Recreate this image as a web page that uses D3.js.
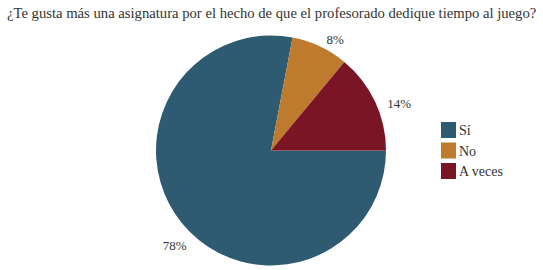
<!DOCTYPE html>
<html>
  <head>
    <meta charset="UTF-8" />
    <script src="https://d3js.org/d3.v7.min.js"></script>
  </head>
  <body style="margin: 0; background: #fff">
    <svg id="chart" width="543" height="270"></svg>
    <script>
      const title =
        "¿Te gusta más una asignatura por el hecho de que el profesorado dedique tiempo al juego?";
      const categories = ["Sí", "No", "A veces"];
      const values = [78, 8, 14];
      const colors = ["#2e5b72", "#be7b2e", "#7a1525"];

      const svg = d3.select("#chart");
      const textColor = "#333";
      const font = "Liberation Serif";

      // title, scaled to the width of the reference
      const titleText = svg
        .append("text")
        .attr("x", 7)
        .attr("y", 18)
        .attr("font-family", font)
        .attr("font-size", 16)
        .attr("fill", textColor)
        .text(title);
      const tw = titleText.node().getComputedTextLength();
      titleText.attr("font-size", (16 * 530) / tw);

      const cx = 271,
        cy = 150.5,
        radius = 115;

      const pie = d3
        .pie()
        .sort(null)
        .startAngle(Math.PI / 2)
        .endAngle(Math.PI / 2 + 2 * Math.PI);

      const arcs = pie(values);
      const arc = d3.arc().innerRadius(0).outerRadius(radius);
      const labelArc = d3.arc().innerRadius(134).outerRadius(134);

      const g = svg.append("g").attr("transform", `translate(${cx},${cy})`);

      g.selectAll("path")
        .data(arcs)
        .join("path")
        .attr("d", arc)
        .attr("fill", (d, i) => colors[i]);

      g.selectAll("text")
        .data(arcs)
        .join("text")
        .attr("transform", (d) => {
          const [x, y] = labelArc.centroid(d);
          return `translate(${x + 7},${y + 10})`;
        })
        .attr("text-anchor", "middle")
        .attr("dy", "0.35em")
        .attr("font-family", font)
        .attr("font-size", 13)
        .attr("fill", textColor)
        .text((d) => d.data + "%");

      const legend = svg
        .append("g")
        .attr("transform", "translate(441,122)")
        .selectAll("g")
        .data(categories)
        .join("g")
        .attr("transform", (d, i) => `translate(0,${i * 20.5})`);

      legend
        .append("rect")
        .attr("width", 15)
        .attr("height", 16)
        .attr("fill", (d, i) => colors[i]);

      legend
        .append("text")
        .attr("x", 18)
        .attr("y", 13)
        .attr("font-family", font)
        .attr("font-size", 14)
        .attr("fill", textColor)
        .text((d) => d);
    </script>
  </body>
</html>
